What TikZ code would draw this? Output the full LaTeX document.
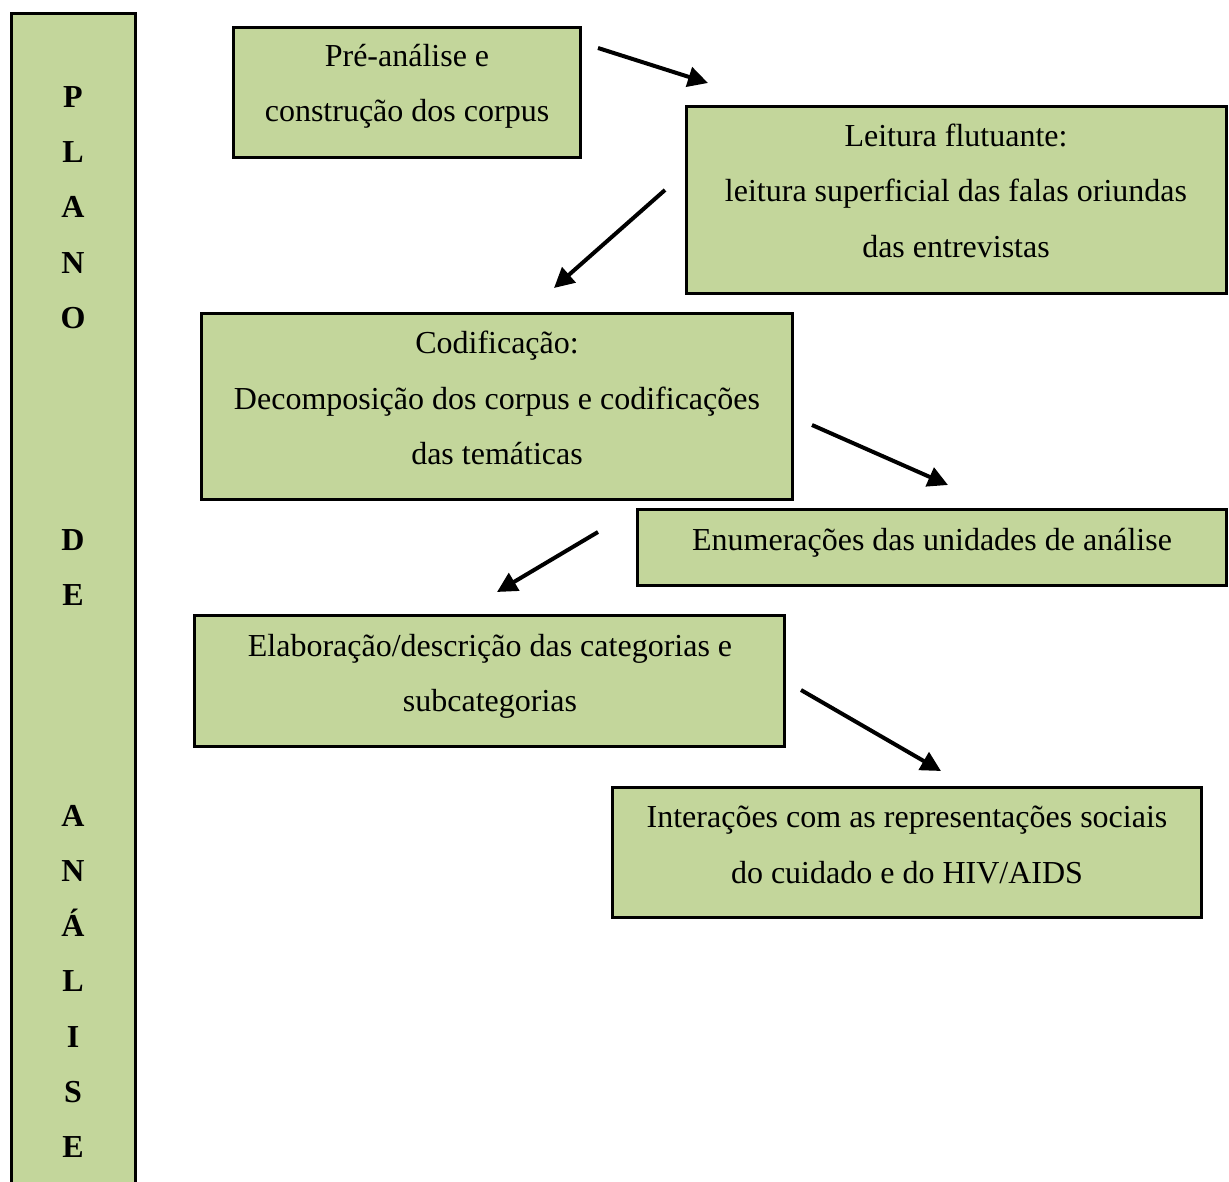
\documentclass[tikz,border=0pt]{standalone}
\usepackage{fontspec}
\setmainfont{Liberation Serif}
\usetikzlibrary{arrows.meta}
\definecolor{boxgreen}{HTML}{C3D69B}
\tikzset{
  stagebox/.style={draw=black, fill=boxgreen, line width=3.5pt, inner sep=0pt, outer sep=0pt},
  stagetext/.style={anchor=base, inner sep=0pt, font=\fontsize{32}{40}\selectfont},
  barletter/.style={anchor=base, inner sep=0pt, font=\fontsize{32}{40}\selectfont\bfseries},
  flow/.style={line width=4pt, -{Triangle[length=20pt,width=20pt]}}
}
\begin{document}
\begin{tikzpicture}[x=1pt,y=-1pt]
\useasboundingbox (0,0) rectangle (1229,1182);
% left bar
\fill[boxgreen] (10,12) rectangle (137,1182);
\draw[line width=3.5pt] (11.5,1182) -- (11.5,13.5) -- (135.5,13.5) -- (135.5,1182);
\foreach \ch/\yy [count=\i] in {P/97,L/152,A/207,N/263,O/318,D/539,E/594,A/815,N/870,\'A/925,L/980,I/1036,S/1091,E/1146}
  \node[barletter] (bar\i) at (73,\yy+11) {\ch};
% boxes
\node[stagebox, minimum width=347pt, minimum height=130pt] (b1) at (407,92.5) {};
\node[stagebox, minimum width=540pt, minimum height=187pt] (b2) at (956.5,200) {};
\node[stagebox, minimum width=591pt, minimum height=186pt] (b3) at (497,406.5) {};
\node[stagebox, minimum width=589pt, minimum height=76pt] (b4) at (932,547.5) {};
\node[stagebox, minimum width=590pt, minimum height=131pt] (b5) at (489.5,681) {};
\node[stagebox, minimum width=589pt, minimum height=130pt] (b6) at (907,852.5) {};
% texts
\node[stagetext] (t1a) at (407,67) {Pré-análise e};
\node[stagetext] (t1b) at (407,122) {construção dos corpus};
\node[stagetext] (t2a) at (956,147) {Leitura flutuante:};
\node[stagetext] (t2b) at (956,202) {leitura superficial das falas oriundas};
\node[stagetext] (t2c) at (956,258) {das entrevistas};
\node[stagetext] (t3a) at (497,353) {Codificação:};
\node[stagetext] (t3b) at (497,409) {Decomposição dos corpus e codificações};
\node[stagetext] (t3c) at (497,464) {das temáticas};
\node[stagetext] (t4a) at (932,550) {Enumerações das unidades de análise};
\node[stagetext] (t5a) at (490,656) {Elaboração/descrição das categorias e};
\node[stagetext] (t5b) at (490,711) {subcategorias};
\node[stagetext] (t6a) at (907,827) {Interações com as representações sociais};
\node[stagetext] (t6b) at (907,883) {do cuidado e do HIV/AIDS};
% arrow endpoints
\coordinate (a1s) at (598,48);  \coordinate (a1e) at (708,83);
\coordinate (a2s) at (665,190); \coordinate (a2e) at (554,288);
\coordinate (a3s) at (812,425); \coordinate (a3e) at (948,485);
\coordinate (a4s) at (598,532); \coordinate (a4e) at (497,592);
\coordinate (a5s) at (801,690); \coordinate (a5e) at (941,771);
\draw[flow] (a1s) -- (a1e);
\draw[flow] (a2s) -- (a2e);
\draw[flow] (a3s) -- (a3e);
\draw[flow] (a4s) -- (a4e);
\draw[flow] (a5s) -- (a5e);
\end{tikzpicture}
\end{document}
